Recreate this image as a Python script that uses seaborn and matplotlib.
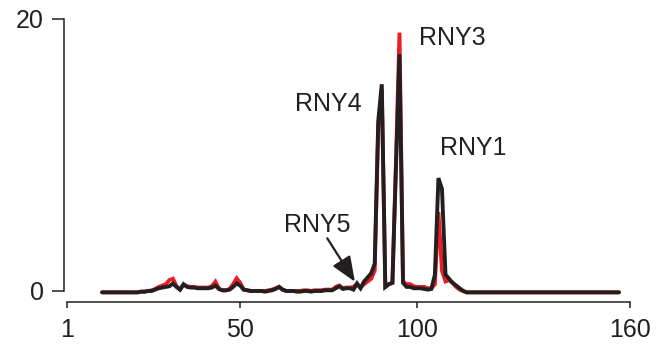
import matplotlib
matplotlib.use("Agg")
import matplotlib.pyplot as plt
import seaborn as sns
import pandas as pd

# Read position (nt) and coverage for the two samples
positions = list(range(11, 158))

black_cov = [
    -0.1, -0.1, -0.1, -0.1, -0.1, -0.1, -0.1, -0.1, -0.1, -0.1,   # 11-20
    -0.1, -0.05, -0.05, 0.0, 0.0, 0.1, 0.2, 0.25, 0.3, 0.35,       # 21-30
    0.55, 0.3, 0.1, 0.5, 0.3, 0.25, 0.25, 0.2, 0.2, 0.2,           # 31-40
    0.2, 0.25, 0.4, 0.15, 0.05, 0.05, 0.1, 0.3, 0.55, 0.4,         # 41-50
    0.1, 0.05, 0.0, 0.0, 0.0, 0.0, -0.05, 0.0, 0.05, 0.15,         # 51-60
    0.3, 0.1, 0.0, 0.0, 0.0, -0.05, -0.05, 0.0, 0.0, -0.05,        # 61-70
    0.0, 0.0, 0.0, 0.05, 0.05, 0.05, 0.2, 0.35, 0.15, 0.2,         # 71-80
    0.2, 0.1, 0.55, 0.2, 0.7, 1.0, 1.3, 2.0, 12.5, 15.2,           # 81-90
    0.3, 0.5, 0.6, 9.0, 17.4, 0.6, 0.3, 0.3, 0.2, 0.2,             # 91-100
    0.2, 0.15, 0.1, 0.15, 1.2, 8.3, 7.5, 1.2, 0.9, 0.6,            # 101-110
    0.4, 0.2, 0.0, -0.1, -0.1, -0.1, -0.1, -0.1, -0.1, -0.1,       # 111-120
    -0.1, -0.1, -0.1, -0.1, -0.1, -0.1, -0.1, -0.1, -0.1, -0.1,    # 121-130
    -0.1, -0.1, -0.1, -0.1, -0.1, -0.1, -0.1, -0.1, -0.1, -0.1,    # 131-140
    -0.1, -0.1, -0.1, -0.1, -0.1, -0.1, -0.1, -0.1, -0.1, -0.1,    # 141-150
    -0.1, -0.1, -0.1, -0.1, -0.1, -0.1, -0.1,                      # 151-157
]

red_cov = [
    -0.1, -0.1, -0.1, -0.1, -0.1, -0.1, -0.1, -0.1, -0.1, -0.1,   # 11-20
    -0.1, -0.05, -0.05, 0.0, 0.05, 0.15, 0.3, 0.4, 0.5, 0.8,       # 21-30
    0.9, 0.35, 0.1, 0.45, 0.35, 0.3, 0.3, 0.25, 0.25, 0.25,        # 31-40
    0.25, 0.35, 0.68, 0.15, 0.05, 0.05, 0.15, 0.5, 0.93, 0.6,      # 41-50
    0.1, 0.05, 0.0, 0.0, 0.0, 0.0, 0.0, 0.05, 0.1, 0.2,            # 51-60
    0.3, 0.1, 0.0, 0.0, 0.0, 0.0, 0.0, 0.05, 0.05, 0.0,            # 61-70
    0.05, 0.05, 0.05, 0.1, 0.1, 0.1, 0.3, 0.4, 0.2, 0.25,          # 71-80
    0.25, 0.3, 0.5, 0.25, 0.5, 0.7, 0.9, 1.5, 12.0, 14.8,          # 81-90
    0.3, 0.5, 0.6, 9.5, 19.0, 0.7, 0.5, 0.5, 0.35, 0.3,            # 91-100
    0.3, 0.3, 0.2, 0.2, 0.5, 5.8, 1.5, 0.7, 0.8, 0.6,              # 101-110
    0.3, 0.1, 0.0, -0.1, -0.1, -0.1, -0.1, -0.1, -0.1, -0.1,       # 111-120
    -0.1, -0.1, -0.1, -0.1, -0.1, -0.1, -0.1, -0.1, -0.1, -0.1,    # 121-130
    -0.1, -0.1, -0.1, -0.1, -0.1, -0.1, -0.1, -0.1, -0.1, -0.1,    # 131-140
    -0.1, -0.1, -0.1, -0.1, -0.1, -0.1, -0.1, -0.1, -0.1, -0.1,    # 141-150
    -0.1, -0.1, -0.1, -0.1, -0.1, -0.1, -0.1,                      # 151-157
]

x_ticks = [1, 50, 100, 160]
y_ticks = [0, 20]

peak_labels = ["RNY3", "RNY4", "RNY1", "RNY5"]
peak_label_xy = [(110.0, 18.09), (74.8, 13.26), (115.9, 10.0), (71.8, 4.36)]
arrow_tail = (74.6, 3.875)
arrow_tip = (82.4, 0.68)

INK = "#231f20"
RED = "#ec1c24"

sns.set_style("ticks")
plt.rcParams["font.family"] = ["Liberation Sans", "DejaVu Sans"]

df = pd.DataFrame({"pos": positions, "black": black_cov, "red": red_cov})

fig = plt.figure(figsize=(6.65, 3.46), dpi=100)
ax = fig.add_axes([64 / 665, 44 / 346, 565.6 / 665, 283 / 346])

sns.lineplot(data=df, x="pos", y="red", color=RED, lw=2.8, ax=ax,
             solid_joinstyle="miter", zorder=2)
sns.lineplot(data=df, x="pos", y="black", color=INK, lw=2.8, ax=ax,
             solid_joinstyle="miter", zorder=3)

ax.set_xlim(0.237, 160)
ax.set_ylim(-0.81, 20)
ax.set_xticks(x_ticks)
ax.set_yticks(y_ticks)
ax.set_xlabel("")
ax.set_ylabel("")

for side in ["top", "right"]:
    ax.spines[side].set_visible(False)
ax.spines["left"].set_bounds(0, 20)
ax.spines["bottom"].set_bounds(1, 160)
for side in ["left", "bottom"]:
    ax.spines[side].set_color(INK)
    ax.spines[side].set_linewidth(1.1)

ax.tick_params(axis="y", length=8.5, width=1.1, color=INK, labelsize=18,
               labelcolor=INK, pad=6)
ax.tick_params(axis="x", length=4.3, width=1.1, color=INK, labelsize=18,
               labelcolor=INK, pad=7)

for label, (lx, ly) in zip(peak_labels, peak_label_xy):
    ax.text(lx, ly, label, ha="center", va="baseline", fontsize=18,
            color=INK, zorder=4)

ax.annotate("", xy=arrow_tip, xytext=arrow_tail,
            arrowprops=dict(arrowstyle="-|>,head_length=0.85,head_width=0.35",
                            color=INK, lw=1.6, shrinkA=0, shrinkB=0,
                            mutation_scale=18),
            zorder=4)

fig.savefig("out.png", dpi=100)
